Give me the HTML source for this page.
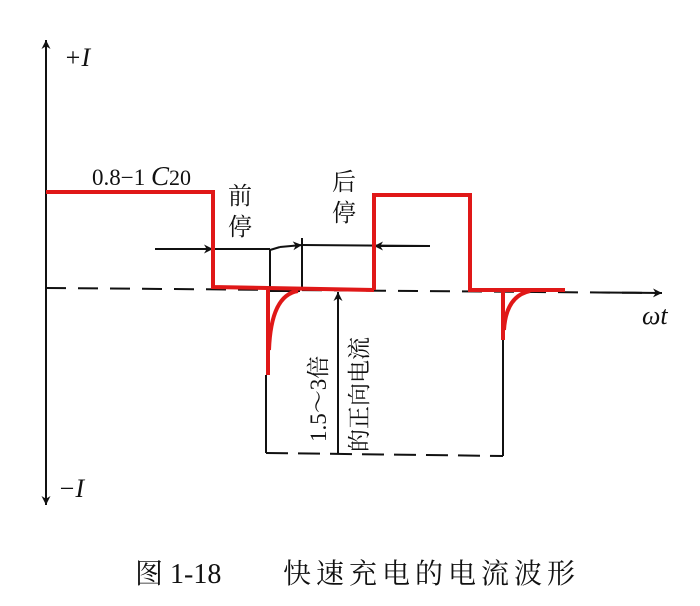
<!DOCTYPE html>
<html><head><meta charset="utf-8"><style>
body{margin:0;background:#fff;}
svg text{font-family:"Liberation Serif","Noto Serif CJK SC",serif;fill:#111;}
</style></head><body>
<svg width="700" height="601" viewBox="0 0 700 601" xmlns="http://www.w3.org/2000/svg">
<defs>
<marker id="a" viewBox="0 0 10 10" refX="10" refY="5" markerWidth="16" markerHeight="9" orient="auto-start-reverse" markerUnits="userSpaceOnUse"><path d="M0,0 L10,5 L0,10 L3,5 Z" fill="#111"/></marker>
</defs>
<g stroke="#111" stroke-width="2" fill="none">
<line x1="46" y1="505" x2="46" y2="40" marker-end="url(#a)"/>
<line x1="46" y1="480" x2="46" y2="505" marker-end="url(#a)"/>
<line x1="46" y1="288" x2="660" y2="293" stroke-dasharray="20,12"/>
<line x1="600" y1="292.5" x2="662" y2="293" marker-end="url(#a)"/>
<line x1="155" y1="249" x2="213" y2="249" marker-end="url(#a)"/>
<line x1="213" y1="249" x2="270" y2="249"/>
<line x1="270" y1="249" x2="270" y2="288"/>
<line x1="302" y1="238" x2="302" y2="290"/>
<line x1="280" y1="247" x2="302" y2="245" marker-end="url(#a)"/>
<line x1="270" y1="250" x2="280" y2="247"/>
<line x1="302" y1="245" x2="430" y2="246"/>
<line x1="430" y1="246" x2="374" y2="246" marker-end="url(#a)"/>
<line x1="266" y1="375" x2="266" y2="453"/>
<line x1="266" y1="453" x2="503" y2="456" stroke-dasharray="22,10"/>
<line x1="503" y1="340" x2="503" y2="456"/>
<line x1="338" y1="454" x2="338" y2="292" marker-end="url(#a)"/>
<line x1="270" y1="290" x2="300" y2="290" stroke-width="4"/>
</g>
<g stroke="#e01818" stroke-width="4" fill="none" stroke-linejoin="miter">
<path d="M46,192 L213,192 L213,287 L374,290"/>
<path d="M374,290 L374,195 L470,195 L470,290 L565,290"/>
<path d="M268,288 L268,375"/>
<path d="M269,350 Q271,295 298,291"/>
<path d="M503,290 L503,340"/>
<path d="M504,330 Q506,296 530,291"/>
</g>
<text x="64" y="66" font-size="26" font-style="italic">+I</text>
<text x="58" y="497" font-size="26" font-style="italic">−I</text>
<text x="642" y="324" font-size="26" font-style="italic">ωt</text>
<text x="92" y="185" font-size="23">0.8−1 <tspan font-style="italic" font-size="27">C</tspan><tspan font-size="22">20</tspan></text>
<text x="228" y="204" font-size="24">前</text>
<text x="228" y="235" font-size="24">停</text>
<text x="332" y="190" font-size="24">后</text>
<text x="332" y="221" font-size="24">停</text>
<text transform="translate(326,442) rotate(-90)" font-size="23">1.5～3倍</text>
<text transform="translate(367,452) rotate(-90)" font-size="23">的正向电流</text>
<text x="135" y="583" font-size="28">图 1-18</text>
<text x="283" y="583" font-size="28" letter-spacing="5">快速充电的电流波形</text>
</svg>
</body></html>
